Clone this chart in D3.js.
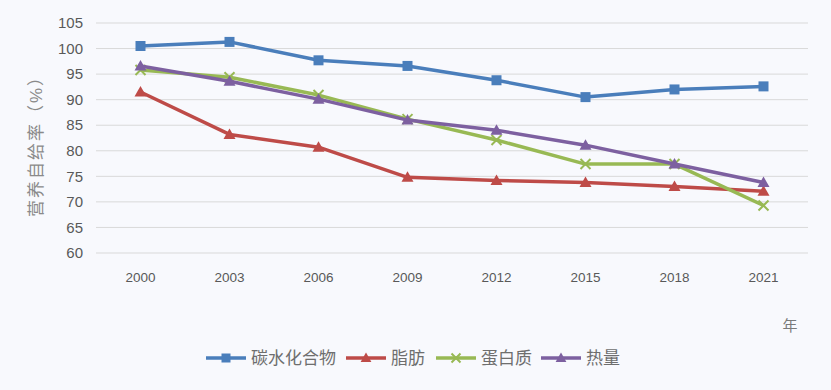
<!DOCTYPE html>
<html>
<head>
<meta charset="utf-8">
<script src="https://cdn.jsdelivr.net/npm/d3@7"></script>
<style>
  body {margin: 0; background: #f8f9fd;}
  text {font-family: "Liberation Sans", "Noto Sans CJK SC", sans-serif; fill: #595959;}
</style>
</head>
<body>
<div class="chartWrap"></div>
<script>
//Data
const years = ["2000", "2003", "2006", "2009", "2012", "2015", "2018", "2021"];
const carb = [100.5, 101.3, 97.7, 96.6, 93.8, 90.5, 92.0, 92.6];
const fat = [91.5, 83.2, 80.7, 74.8, 74.2, 73.8, 73.0, 72.1];
const protein = [95.8, 94.4, 90.9, 86.2, 82.1, 77.4, 77.4, 69.3];
const energy = [96.6, 93.6, 90.1, 86.0, 84.0, 81.1, 77.4, 73.8];
const yTicks = [60, 65, 70, 75, 80, 85, 90, 95, 100, 105];
const seriesNames = ["碳水化合物", "脂肪", "蛋白质", "热量"];

const series = [
  {name: seriesNames[0], values: carb, color: "#4a7ebb", marker: "square"},
  {name: seriesNames[1], values: fat, color: "#be4b48", marker: "triangle"},
  {name: seriesNames[2], values: protein, color: "#98b954", marker: "x"},
  {name: seriesNames[3], values: energy, color: "#7d60a0", marker: "triangle"}
];

const w = 831, h = 390,
  margin = {top: 23, right: 23, bottom: 137, left: 96};

let svg = d3.select(".chartWrap").append("svg").attr("width", w).attr("height", h);

let x = d3.scalePoint().domain(years).range([margin.left, w - margin.right]).padding(0.5);
let y = d3.scaleLinear().domain([60, 105]).range([h - margin.bottom, margin.top]);

//Grid
svg.append("g").selectAll("line").data(yTicks).enter().append("line")
  .attr("x1", margin.left).attr("x2", w - margin.right)
  .attr("y1", d => y(d)).attr("y2", d => y(d))
  .attr("stroke", "#d9d9d9").attr("stroke-width", 1);

//Y ticks
svg.append("g").selectAll("text").data(yTicks).enter().append("text")
  .attr("x", 83).attr("y", d => y(d)).attr("dy", "0.35em")
  .attr("text-anchor", "end").attr("font-size", 15).text(d => d);

//X ticks
svg.append("g").selectAll("text").data(years).enter().append("text")
  .attr("x", d => x(d)).attr("y", 282)
  .attr("text-anchor", "middle").attr("font-size", 13.5).text(d => d);

//Axis titles
svg.append("text").attr("transform", "translate(42,142) rotate(-90)")
  .attr("text-anchor", "middle").attr("font-size", 17).attr("letter-spacing", 2)
  .style("fill", "#8a8a8a").text("营养自给率（%）");
svg.append("text").attr("x", 790).attr("y", 331).attr("text-anchor", "middle").attr("font-size", 15)
  .style("fill", "#7a7a7a").text("年");

let line = d3.line().x((d, i) => x(years[i])).y(d => y(d));

function drawMarker(g, type, cx, cy, color, s) {
  if (type === "square") {
    g.append("rect").attr("x", cx - s/2).attr("y", cy - s/2).attr("width", s).attr("height", s).attr("fill", color);
  } else if (type === "triangle") {
    g.append("path").attr("d", `M${cx},${cy - s*0.6}L${cx + s*0.6},${cy + s*0.45}L${cx - s*0.6},${cy + s*0.45}Z`).attr("fill", color);
  } else {
    let r = s * 0.5;
    g.append("path").attr("d", `M${cx - r},${cy - r}L${cx + r},${cy + r}M${cx - r},${cy + r}L${cx + r},${cy - r}`)
      .attr("stroke", color).attr("stroke-width", 2).attr("fill", "none");
  }
}

//Lines
series.forEach(function(s) {
  let g = svg.append("g");
  g.append("path").datum(s.values).attr("d", line)
    .attr("fill", "none").attr("stroke", s.color).attr("stroke-width", 3.5).attr("stroke-linejoin", "round");
  s.values.forEach(function(v, i) {
    drawMarker(g, s.marker, x(years[i]), y(v), s.color, 10);
  });
});

//Legend
let legendX = [206, 346, 436, 541];
series.forEach(function(s, i) {
  let g = svg.append("g");
  let lx = legendX[i], ly = 358;
  g.append("line").attr("x1", lx).attr("x2", lx + 40).attr("y1", ly).attr("y2", ly)
    .attr("stroke", s.color).attr("stroke-width", 3.5);
  drawMarker(g, s.marker, lx + 20, ly, s.color, 9);
  g.append("text").attr("x", lx + 45).attr("y", ly).attr("dy", "0.35em")
    .attr("font-size", 17).style("fill", "#6e6e6e").text(s.name);
});
</script>
</body>
</html>
